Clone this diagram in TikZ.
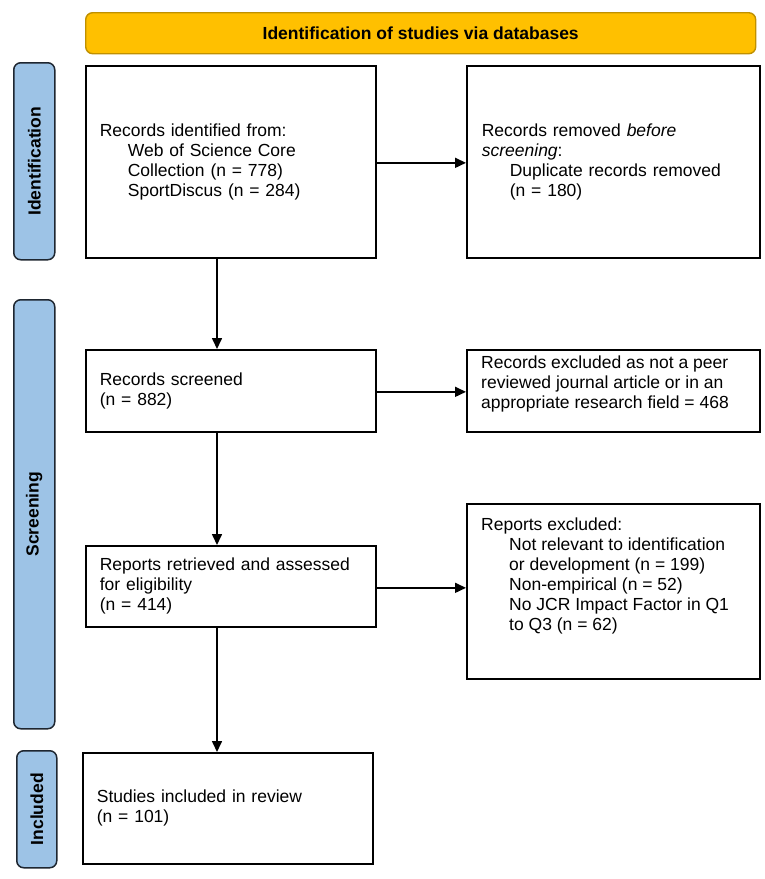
\documentclass[tikz,border=0pt]{standalone}
\usepackage{fontspec}
\setmainfont{Liberation Sans}
\usetikzlibrary{arrows.meta,calc}
\definecolor{banner}{HTML}{FFC000}
\definecolor{bannerline}{HTML}{C09000}
\definecolor{sidefill}{HTML}{9DC3E6}
\definecolor{sideline}{HTML}{1E2630}
\tikzset{
  flowbox/.style={draw=black, line width=1.7pt, fill=white, rectangle, anchor=north west,
    inner xsep=14pt, inner ysep=0pt, align=left, font=\fontsize{17.5}{20}\selectfont},
  sidebar/.style={draw=sideline, fill=sidefill, line width=1.5pt, rounded corners=7pt,
    rectangle, anchor=north west, minimum width=41pt, inner sep=0pt},
  sidetext/.style={rotate=90, font=\bfseries\fontsize{17.5}{20}\selectfont},
  arr/.style={-{Triangle[length=11pt,width=10pt]}, line width=1.6pt},
}
\newcommand{\ind}{\hspace*{28pt}}
\begin{document}
\begin{tikzpicture}[x=1pt,y=-1pt]
\useasboundingbox (0,0) rectangle (765,879);
% banner
\node[draw=bannerline, fill=banner, line width=1.4pt, rounded corners=7pt, anchor=north west,
  minimum width=670pt, minimum height=41pt, inner sep=0pt,
  font=\bfseries\fontsize{17.5}{20}\selectfont] (ban) at (85,12) {Identification of studies via databases};
% side bars
\node[sidebar, minimum height=197pt] (sid) at (13,62) {};
\node[sidetext] at (sid.center) {Identification};
\node[sidebar, minimum height=429pt] (sscr) at (13,299) {};
\node[sidetext] at (sscr.center) {Screening};
\node[sidebar, minimum height=117pt, minimum width=40pt] (sinc) at (16,750) {};
\node[sidetext] at (sinc.center) {Included};
% boxes
\node[flowbox, text width=262pt, minimum height=192pt] (b1) at (85,65)
  {Records identified from:\\ \ind Web of Science Core\\ \ind Collection (n = 778)\\ \ind SportDiscus (n = 284)};
\node[flowbox, text width=263pt, minimum height=192pt, inner xsep=15pt] (b2) at (466,65)
  {Records removed \textit{before}\\ \textit{screening}:\\ \ind Duplicate records removed\\ \ind (n = 180)};
\node[flowbox, text width=262pt, minimum height=82pt] (b3) at (85,349)
  {Records screened\\ (n = 882)};
\node[flowbox, text width=263pt, minimum height=82pt, inner xsep=15pt] (b4) at (466,349) {};
\node[anchor=north west, align=left, inner sep=0pt, font=\fontsize{17.5}{20}\selectfont] (b4t) at (481,356)
  {Records excluded as not a peer\\ reviewed journal article or in an\\ appropriate research field = 468};
\node[flowbox, text width=262pt, minimum height=81pt] (b5) at (85,545)
  {Reports retrieved and assessed\\ for eligibility\\ (n = 414)};
\node[flowbox, text width=263pt, minimum height=175pt, inner xsep=15pt] (b6) at (466,503) {};
\node[anchor=north west, align=left, inner sep=0pt, font=\fontsize{17.5}{20}\selectfont] (b6t) at (481,518)
  {Reports excluded:\\ \ind Not relevant to identification\\ \ind or development (n = 199)\\ \ind Non-empirical (n = 52)\\ \ind No JCR Impact Factor in Q1\\ \ind to Q3 (n = 62)};
\node[flowbox, text width=262pt, minimum height=111pt] (b7) at (82,752)
  {Studies included in review\\ (n = 101)};
% arrows
\coordinate (ax) at (217,0);
\draw[arr] (b1.south -| ax) -- (b3.north -| ax);
\draw[arr] (b3.south -| ax) -- (b5.north -| ax);
\draw[arr] (b5.south -| ax) -- (b7.north -| ax);
\draw[arr] ($(b1.east)+(0,1)$) -- ($(b2.west)+(0,1)$);
\draw[arr] ($(b3.east)+(0,1)$) -- ($(b3.east -| b4.west)+(0,1)$);
\draw[arr] ($(b5.east)+(0,1.5)$) -- ($(b5.east -| b6.west)+(0,1.5)$);
\end{tikzpicture}
\end{document}
